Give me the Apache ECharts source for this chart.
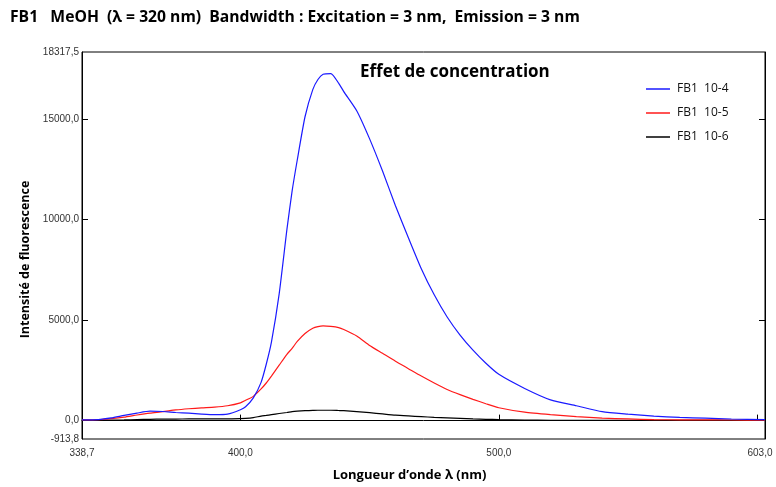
<!DOCTYPE html>
<html><head><meta charset="utf-8">
<script src="https://cdn.jsdelivr.net/npm/echarts@6/dist/echarts.min.js"></script>
<style>html,body{margin:0;padding:0;background:#fff}#c{width:776px;height:487px}</style>
</head><body><div id="c"></div>
<script>
const wavelengths = [338.7,345,350,355,360,365,370,375,380,385,390,395,400,402,405,408,410,412,415,418,420,422,425,428,430,432,435,438,440,445,450,455,460,465,470,475,480,485,490,495,500,510,520,530,540,550,560,570,580,590,603];
const fb1_1e4 = [34,49,133,260,374,467,452,403,369,325,295,320,541,689,1131,1900,2800,3900,6300,9500,11400,12950,15100,16450,16950,17213,17247,16770,16350,15400,14000,12400,10680,9090,7550,6250,5150,4250,3500,2850,2300,1600,1033,738,443,320,221,157,123,79,49];
const fb1_1e5 = [34,49,98,172,280,374,443,531,590,634,669,738,885,1008,1205,1574,1869,2213,2754,3295,3590,3934,4328,4588,4672,4707,4682,4623,4525,4205,3738,3344,2951,2582,2213,1869,1549,1290,1057,840,639,418,295,197,123,84,49,39,34,30,25];
const fb1_1e6 = [15,15,25,34,49,64,74,74,84,84,84,84,98,108,148,221,256,295,354,403,443,467,492,507,516,516,516,502,492,443,393,330,270,231,197,162,133,108,84,66,49,30,15,15,15,15,15,15,15,15,15];
const seriesNames = ['FB1  10-4','FB1  10-5','FB1  10-6'];
const yTickValues = [-913.8, 0, 5000, 10000, 15000, 18317.5];
const xLabelValues = [338.7, 400, 500, 603];
const xTickValues = [400, 500, 600];
const titleText = 'FB1   MeOH  (\u03bb = 320 nm)  Bandwidth : Excitation = 3 nm,  Emission = 3 nm';
const subTitle = 'Effet de concentration';

const fmt = v => (Math.round(v*10)/10).toFixed(1).replace('.', ',');
const pairs = arr => wavelengths.map((w,i)=>[w, arr[i]]);
const colors = ['#1a1aff','#ff1a1a','#000000'];
const font = '"Open Sans", Lato, sans-serif';
const tickFont = '"Liberation Sans", Arial, sans-serif';

const chart = echarts.init(document.getElementById('c'));
chart.setOption({
  animation:false,
  title:[
    {text:titleText,left:5,top:5,textStyle:{fontFamily:font,fontWeight:'bold',fontSize:15.7,color:'#000'}},
    {text:subTitle,left:355,top:59,textStyle:{fontFamily:font,fontWeight:'bold',fontSize:17,color:'#000'}}
  ],
  legend:{orient:'vertical',left:641,top:78,icon:'rect',itemWidth:24,itemHeight:1.5,itemGap:12,
    textStyle:{fontFamily:font,fontSize:12,color:'#111',padding:[0,0,0,2]},data:seriesNames},
  grid:{left:82,right:11,top:52,bottom:45,show:true,borderColor:'#000',borderWidth:1,containLabel:false},
  xAxis:[{type:'value',min:338.7,max:603,
    name:'Longueur d\u2019onde \u03bb (nm)',nameLocation:'middle',nameGap:30,
    nameTextStyle:{fontFamily:font,fontWeight:'bold',fontSize:13,color:'#000',padding:[0,28,0,0]},
    axisLine:{show:true,lineStyle:{color:'#000',width:1}},
    splitLine:{show:false},
    axisTick:{show:true,inside:true,length:6,lineStyle:{color:'#000'},customValues:xTickValues},
    axisLabel:{customValues:xLabelValues,margin:9,fontFamily:tickFont,fontSize:10,color:'#333',
      formatter:v=> v>=603 ? '{m|'+fmt(v)+'}' : fmt(v),
      rich:{m:{fontFamily:tickFont,fontSize:10,color:'#333',padding:[0,10,0,0]}}}
  }],
  yAxis:[{type:'value',min:-913.8,max:18317.5,
    name:'Intensit\u00e9 de fluorescence',nameLocation:'middle',nameGap:47,nameRotate:90,
    nameTextStyle:{fontFamily:font,fontWeight:'bold',fontSize:12.5,color:'#000',padding:[0,28,0,0]},
    axisLine:{show:true,lineStyle:{color:'#000',width:1}},
    splitLine:{show:false},
    axisTick:{show:true,inside:true,length:6,lineStyle:{color:'#000'},customValues:yTickValues.slice(1,5)},
    axisLabel:{customValues:yTickValues,margin:3,fontFamily:tickFont,fontSize:10,color:'#333',formatter:fmt}
  },{type:'value',min:-913.8,max:18317.5,position:'right',
    axisLine:{show:true,lineStyle:{color:'#000'}},splitLine:{show:false},
    axisTick:{show:true,inside:true,length:6,lineStyle:{color:'#000'},customValues:yTickValues.slice(1,5)},
    axisLabel:{show:false}}],
  series:[fb1_1e4,fb1_1e5,fb1_1e6].map((d,i)=>({
    name:seriesNames[i],type:'line',data:pairs(d),symbol:'none',smooth:0.2,
    lineStyle:{color:colors[i],width:1.2},itemStyle:{color:colors[i]},z:3-i
  }))
});
</script></body></html>
